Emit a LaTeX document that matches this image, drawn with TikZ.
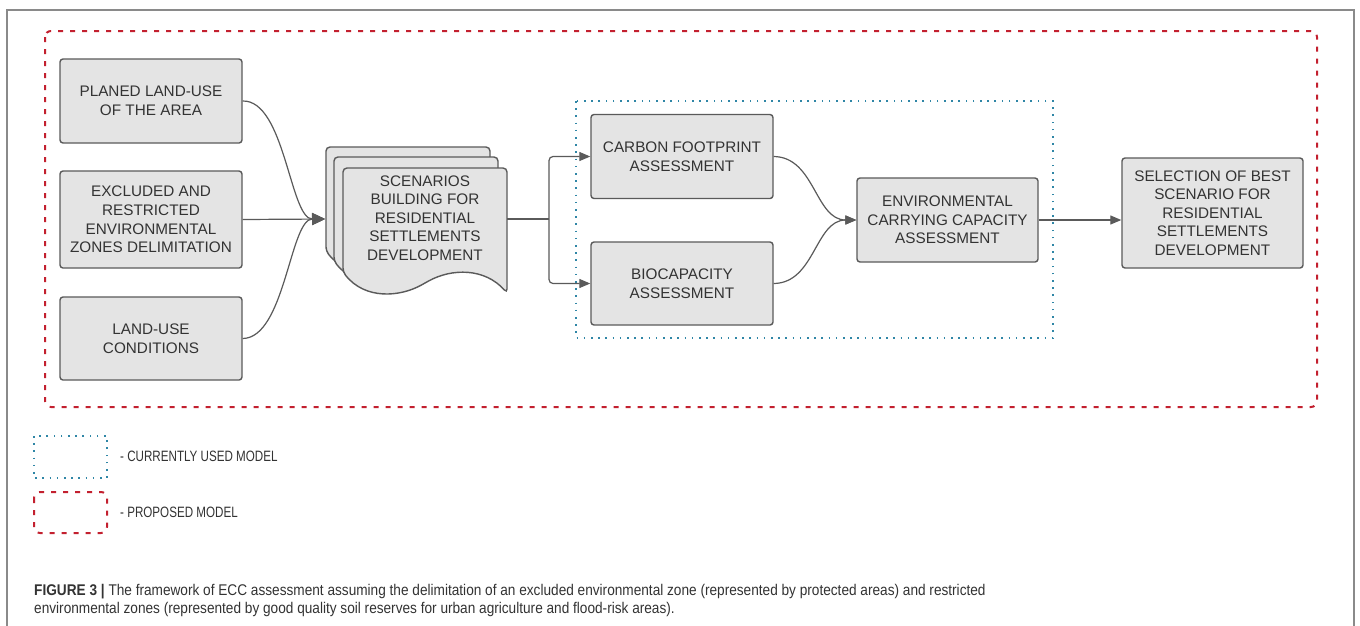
\documentclass[tikz,border=0pt]{standalone}
\usepackage{fontspec}
\setmainfont{Liberation Sans}
\newfontfamily\condfont[FakeStretch=0.775]{Liberation Sans}
\newfontfamily\capfont[FakeStretch=0.88]{Liberation Sans}
\usetikzlibrary{arrows.meta}
\definecolor{boxfill}{HTML}{E4E4E4}
\definecolor{boxline}{HTML}{5A5A5A}
\definecolor{txt}{HTML}{333333}
\definecolor{redd}{HTML}{C3202F}
\definecolor{bluedot}{HTML}{2F86A6}
\definecolor{framecol}{HTML}{8A8A8A}
\tikzset{
  box/.style={draw=boxline, fill=boxfill, line width=1.4pt, rounded corners=3pt, text=txt,
    align=center, font=\fontsize{15.3}{18.6}\selectfont, minimum width=182pt, inner sep=0pt},
  sheet/.style={draw=boxline, fill=boxfill, line width=1.4pt, rounded corners=4pt},
  conn/.style={draw=boxline, line width=1.2pt},
  arr/.style={conn, -{Triangle[length=11pt,width=9pt]}},
  bigarr/.style={conn, -{Triangle[length=13pt,width=12pt]}},
  reddash/.style={draw=redd, line width=2pt, dash pattern=on 5pt off 7pt, rounded corners=6pt},
  bluedots/.style={draw=bluedot, line width=1.8pt, dash pattern=on 1.6pt off 5.6pt},
  legtext/.style={font=\condfont\fontsize{15}{18}\selectfont, text=txt, anchor=west, inner sep=0pt},
  captext/.style={font=\capfont\fontsize{15.5}{18}\selectfont, text=black!80, anchor=base west, inner sep=0pt}
}
\newcommand\docsheet[1]{%
  \draw[sheet, shift={#1}] (343,272) -- (343,168) -- (507,168) -- (507,293)
    .. controls (485,268) and (452,268) .. (425,283)
    .. controls (400,297) and (365,300) .. (343,272) -- cycle;}
\begin{document}
\begin{tikzpicture}[x=1pt,y=-1pt]
\useasboundingbox (0,0) rectangle (1360,625);
\fill[white] (0,0) rectangle (1360,625);
% outer frame
\draw[draw=framecol, line width=1.5pt] (7,640) -- (7,10) -- (1354,10) -- (1354,640);
% proposed model frame
\draw[reddash] (45,31) rectangle (1317,407);
% currently used model frame
\draw[bluedots] (576,101) rectangle (1053,338);

% left boxes
\node[box, minimum height=84pt] (b1) at (151,101) {PLANED LAND-USE\\OF THE AREA};
\node[box, minimum height=97pt] (b2) at (151,219.5) {EXCLUDED AND\\RESTRICTED\\ENVIRONMENTAL\\ZONES DELIMITATION};
\node[box, minimum height=83pt] (b3) at (151,338.5) {LAND-USE\\CONDITIONS};

% scenarios (stacked documents)
\docsheet{(-17,-21)}
\docsheet{(-9,-11)}
\docsheet{(0,0)}
\node[text=txt, align=center, font=\fontsize{15.3}{18.6}\selectfont, inner sep=0pt] (scen) at (425,218)
  {SCENARIOS\\BUILDING FOR\\RESIDENTIAL\\SETTLEMENTS\\DEVELOPMENT};
\coordinate (scenin) at (325,219);
\coordinate (scenout) at (507,219);
\coordinate (split) at (549,219);

% assessment boxes
\node[box, minimum height=84pt] (carbon) at (682,156.5) {CARBON FOOTPRINT\\ASSESSMENT};
\node[box, minimum height=83pt] (bio) at (682,283.5) {BIOCAPACITY\\ASSESSMENT};
\node[box, minimum width=181pt, minimum height=84pt] (env) at (947.5,220) {ENVIRONMENTAL\\CARRYING CAPACITY\\ASSESSMENT};
\node[box, minimum width=181pt, minimum height=110pt] (sel) at (1212.5,213) {SELECTION OF BEST\\SCENARIO FOR\\RESIDENTIAL\\SETTLEMENTS\\DEVELOPMENT};

% connectors
\draw[bigarr] (b1.east) .. controls (285,100) and (290,219) .. (scenin);
\draw[bigarr] (b2.east) -- (scenin);
\draw[bigarr] (b3.east) .. controls (285,338) and (290,219) .. (scenin);
\draw[conn] (scenout) -- (split);
\draw[arr, rounded corners=4pt] (split) |- (carbon.west);
\draw[arr, rounded corners=4pt] (split) |- (bio.west);
\draw[arr] (carbon.east) .. controls (815,157) and (815,220) .. (env.west);
\draw[arr] (bio.east) .. controls (815,283) and (815,220) .. (env.west);
\draw[arr] (env.east) -- (env.east -| sel.west);

% legend
\draw[bluedots] (34,436) rectangle (107,478);
\node[legtext] (lg1) at (120,456) {- CURRENTLY USED MODEL};
\draw[reddash] (34,492) rectangle (107,533);
\node[legtext] (lg2) at (120,512) {- PROPOSED MODEL};

% caption
\node[captext] (cap1) at (34,595) {\textbf{FIGURE 3 |} The framework of ECC assessment assuming the delimitation of an excluded environmental zone (represented by protected areas) and restricted};
\node[captext] (cap2) at (34,613) {environmental zones (represented by good quality soil reserves for urban agriculture and flood-risk areas).};
\end{tikzpicture}
\end{document}
